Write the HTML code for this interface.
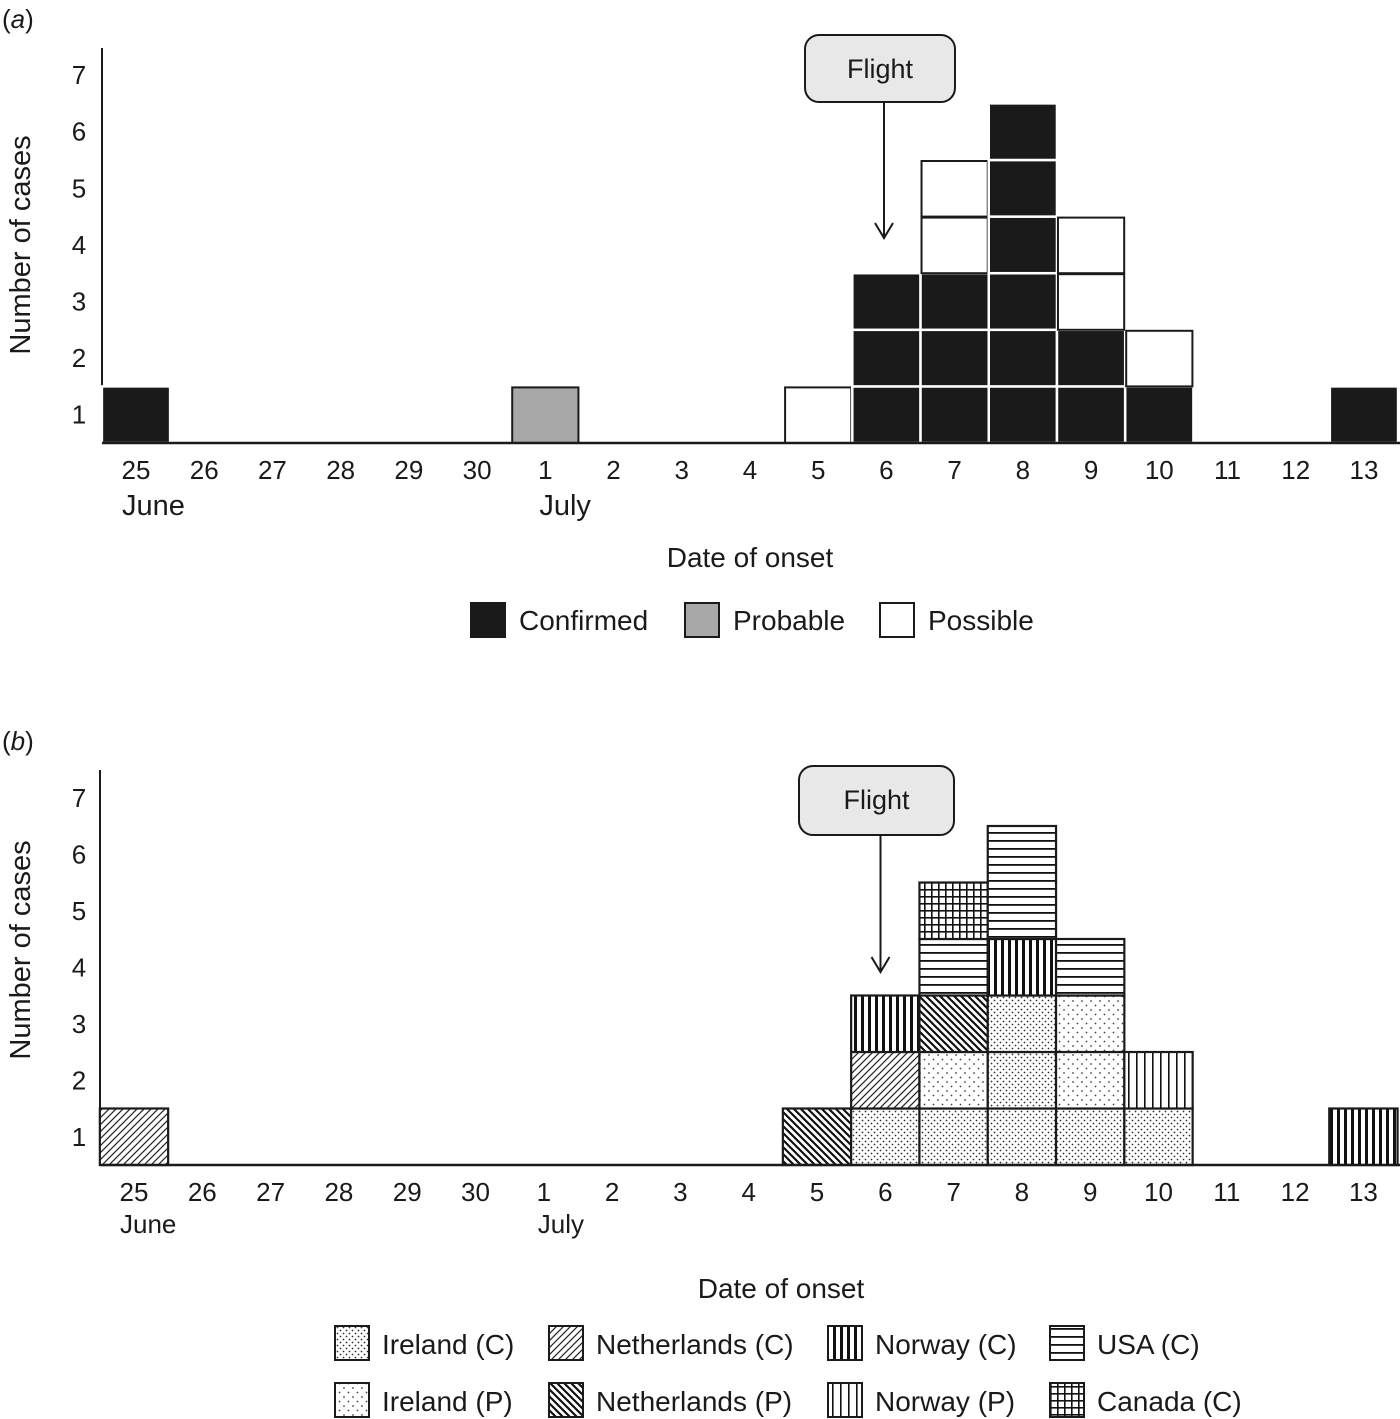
<!DOCTYPE html>
<html><head><meta charset="utf-8"><style>
html,body{margin:0;padding:0;background:#fff;}
svg{display:block;font-family:"Liberation Sans",Arial,sans-serif;}
text{fill:#1a1a1a;}
</style></head><body>
<svg id="chart" width="1400" height="1419" viewBox="0 0 1400 1419" xmlns="http://www.w3.org/2000/svg">
<defs>
<pattern id="p-irc" width="6" height="6" patternUnits="userSpaceOnUse"><rect width="6" height="6" fill="#fff"/><circle cx="1.5" cy="1.5" r="0.9" fill="#333"/><circle cx="4.5" cy="4.5" r="0.9" fill="#333"/></pattern>
<pattern id="p-irp" width="9" height="9" patternUnits="userSpaceOnUse"><rect width="9" height="9" fill="#fff"/><circle cx="2" cy="2" r="0.9" fill="#444"/><circle cx="6.5" cy="6.5" r="0.9" fill="#444"/></pattern>
<pattern id="p-nlc" width="7" height="7" patternUnits="userSpaceOnUse"><rect width="7" height="7" fill="#fff"/><path d="M-1,8 L8,-1 M-1,1 L1,-1 M6,8 L8,6" stroke="#222" stroke-width="1.2"/></pattern>
<pattern id="p-nlp" width="7" height="7" patternUnits="userSpaceOnUse"><rect width="7" height="7" fill="#fff"/><path d="M-1,-1 L8,8 M6,-1 L8,1 M-1,6 L1,8" stroke="#111" stroke-width="2.2"/></pattern>
<pattern id="p-norc" width="7" height="7" patternUnits="userSpaceOnUse"><rect width="7" height="7" fill="#fff"/><rect x="0" width="3" height="7" fill="#111"/></pattern>
<pattern id="p-norp" width="8" height="8" patternUnits="userSpaceOnUse"><rect width="8" height="8" fill="#fff"/><rect x="0" width="1.6" height="8" fill="#111"/></pattern>
<pattern id="p-usa" width="8" height="8" patternUnits="userSpaceOnUse"><rect width="8" height="8" fill="#fff"/><rect y="0" width="8" height="1.8" fill="#111"/></pattern>
<pattern id="p-can" width="7" height="7" patternUnits="userSpaceOnUse"><rect width="7" height="7" fill="#fff"/><rect x="0" width="1.6" height="7" fill="#111"/><rect y="0" width="7" height="1.6" fill="#111"/></pattern>
</defs>
<g id="panelA"></g>
<g id="panelB"></g>
</svg>
<script>
// ---- data ----
const days = ["25","26","27","28","29","30","1","2","3","4","5","6","7","8","9","10","11","12","13"];
const yTicks = [1,2,3,4,5,6,7];
const confirmedA = [1,0,0,0,0,0,0,0,0,0,0,3,3,6,2,1,0,0,1];
const probableA  = [0,0,0,0,0,0,1,0,0,0,0,0,0,0,0,0,0,0,0];
const possibleA  = [0,0,0,0,0,0,0,0,0,0,1,0,2,0,2,1,0,0,0];
const stacksB = {
  "25":["nlc"], "5":["nlp"], "6":["irc","nlc","norc"],
  "7":["irc","irp","nlp","usa","can"], "8":["irc","irc","irc","norc","usa","usa"],
  "9":["irc","irp","irp","usa"], "10":["irc","norp"], "13":["norc"]
};
const mergedCats = ["usa"];
const legendB = [["irc","Ireland (C)"],["nlc","Netherlands (C)"],["norc","Norway (C)"],["usa","USA (C)"],
                 ["irp","Ireland (P)"],["nlp","Netherlands (P)"],["norp","Norway (P)"],["can","Canada (C)"]];
const NS="http://www.w3.org/2000/svg";
function mk(parent,tag,attrs,txt){const e=document.createElementNS(NS,tag);for(const k in attrs)e.setAttribute(k,attrs[k]);if(txt!==undefined)e.textContent=txt;parent.appendChild(e);return e;}

function axes(g,o){
  const x=i=>o.x0+o.step*i, y=v=>o.base-o.unit*v;
  o.xs=x;o.ys=y;
  let t=mk(g,'text',{x:2,y:o.top-20,'font-size':26});
  t.innerHTML='(<tspan font-style="italic">'+o.lab+'</tspan>)';
  
  
  let yl=mk(g,'line',{x1:o.axisX,y1:o.top,x2:o.axisX,y2:o.base,stroke:'#1a1a1a','stroke-width':2});
  
  
  yTicks.forEach(v=>{let e=mk(g,'text',{x:79,y:y(v-0.5)+9,'text-anchor':'middle','font-size':26},String(v));
    
    });
  days.forEach((d,i)=>{let e=mk(g,'text',{x:x(i),y:o.base+36,'text-anchor':'middle','font-size':26},d);
    
    });
  let m1=mk(g,'text',{x:x(0)-14,y:o.base+o.monthDy,'font-size':o.monthSize},'June');
  
  
  let m2=mk(g,'text',{x:x(6)-6,y:o.base+o.monthDy,'font-size':o.monthSize},'July');
  
  
  let yt=mk(g,'text',{x:0,y:0,'font-size':29,'text-anchor':'middle',transform:`translate(30,${o.ytY}) rotate(-90)`},'Number of cases');
  
  
  let xt=mk(g,'text',{x:o.xtX,y:o.xtY,'font-size':28,'text-anchor':'middle'},'Date of onset');
  
  
  let fg=mk(g,'g',{});
  
  
  mk(fg,'rect',{x:o.fb[0],y:o.fb[1],width:o.fb[2],height:o.fb[3],rx:14,fill:'#e8e8e8',stroke:'#1a1a1a','stroke-width':2});
  mk(fg,'text',{x:o.fb[0]+o.fb[2]/2,y:o.fb[1]+43,'font-size':27,'text-anchor':'middle'},'Flight');
  const ax=o.fb[0]+o.fb[2]/2+4;
  mk(fg,'path',{d:`M${ax},${o.fb[1]+o.fb[3]} V${o.arrowY} M${ax-9},${o.arrowY-15} L${ax},${o.arrowY} L${ax+9},${o.arrowY-15}`,fill:'none',stroke:'#1a1a1a','stroke-width':2});
}
function xaxis(g,o){
  let xl=mk(g,'line',{x1:o.axisX,y1:o.base,x2:1400,y2:o.base,stroke:'#1a1a1a','stroke-width':2.5});
  
  
}

// Panel A
const A={lab:'a',x0:136,step:68.22,base:443,unit:56.6,top:48,axisX:102,monthSize:29,monthDy:72,xtX:750,xtY:567,fb:[805,35,150,67],arrowY:238,ytY:245};
const gA=document.getElementById('panelA');
axes(gA,A);
days.forEach((d,i)=>{
  let lvl=0;
  const cells=[];
  for(let k=0;k<confirmedA[i];k++)cells.push('c');
  for(let k=0;k<probableA[i];k++)cells.push('p');
  for(let k=0;k<possibleA[i];k++)cells.push('o');
  cells.forEach(c=>{
    const x=A.xs(i)-A.step/2, y=A.ys(lvl+1);
    let r;
    if(c==='c'){r=mk(gA,'rect',{x:x,y:y,width:A.step,height:A.unit,fill:'#1a1a1a',stroke:'#fff','stroke-width':2.5});
      }
    else if(c==='p'){r=mk(gA,'rect',{x:x+1,y:y+1,width:A.step-2,height:A.unit-1,fill:'#a8a8a8',stroke:'#1a1a1a','stroke-width':2});
      }
    else {r=mk(gA,'rect',{x:x+1,y:y+1,width:A.step-2,height:A.unit-1,fill:'#fff',stroke:'#1a1a1a','stroke-width':2});
      }
    
    lvl++;
  });
});
xaxis(gA,A);
[['#1a1a1a','Confirmed',471],['#a8a8a8','Probable',685],['#fff','Possible',880]].forEach(([f,l,x])=>{
  let g=mk(gA,'g',{});
  
  
  mk(g,'rect',{x:x,y:603,width:34,height:34,fill:f,stroke:'#1a1a1a','stroke-width':2});
  mk(g,'text',{x:x+48,y:630,'font-size':28},l);
});

// Panel B
const B={lab:'b',x0:134,step:68.3,base:1165,unit:56.5,top:770,axisX:100,monthSize:26,monthDy:68,xtX:781,xtY:1298,fb:[799,766,155,69],arrowY:972,ytY:950};
const gB=document.getElementById('panelB');
axes(gB,B);
days.forEach((d,i)=>{
  const st=stacksB[d]||[];
  st.forEach((c,lvl)=>{
    const x=B.xs(i)-B.step/2, y=B.ys(lvl+1);
    let r=mk(gB,'rect',{x:x,y:y,width:B.step,height:B.unit,fill:`url(#p-${c})`,stroke:'#1a1a1a','stroke-width':2.2});
    
    
    if(lvl>0 && st[lvl-1]===c && mergedCats.includes(c)){
      let p=mk(gB,'rect',{x:x+1.2,y:y+B.unit-3,width:B.step-2.4,height:6,fill:`url(#p-${c})`});
      
      
    }
  });
});
xaxis(gB,B);
const lxs=[335,549,828,1050];
legendB.forEach(([c,l],k)=>{
  const x=lxs[k%4], y=k<4?1326:1383;
  let g=mk(gB,'g',{});
  
  
  mk(g,'rect',{x:x,y:y,width:34,height:34,fill:`url(#p-${c})`,stroke:'#1a1a1a','stroke-width':2});
  mk(g,'text',{x:x+47,y:y+28,'font-size':28},l);
});
</script>
</body></html>
